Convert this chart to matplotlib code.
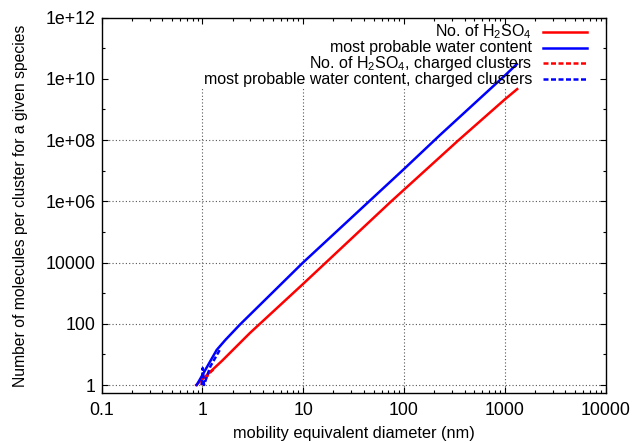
import matplotlib
matplotlib.use("Agg")
import matplotlib.pyplot as plt
from matplotlib.lines import Line2D
from matplotlib.ticker import FixedLocator, FixedFormatter, NullFormatter

plt.rcParams['font.family'] = ['Liberation Sans', 'DejaVu Sans']
plt.rcParams['mathtext.default'] = 'regular'

# Data
acid_d = [0.87, 1.58, 2.97, 10, 75, 350, 1000, 1330]
acid_n = [1, 6.3, 50, 2000, 1e6, 1e8, 2.1e9, 4.6e9]

water_d = [0.88, 1.39, 1.7, 2.37, 10, 100, 228, 1000, 1320]
water_n = [1, 14, 30, 95, 1e4, 1.12e7, 1.45e8, 1.26e10, 3.0e10]

acid_ch_d = [0.97, 1.1, 1.2, 1.34]
acid_ch_n = [1, 1.8, 2.6, 3.6]

water_ch_d = [0.99, 1.01, 1.04, 1.2, 1.5]
water_ch_n = [1, 3.6, 1, 4, 14.5]

x_ticks = [0.1, 1, 10, 100, 1000, 10000]
x_labels = ['0.1', '1', '10', '100', '1000', '10000']
y_ticks = [1, 100, 1e4, 1e6, 1e8, 1e10, 1e12]
y_labels = ['1', '100', '10000', '1e+06', '1e+08', '1e+10', '1e+12']
y_minor = [10, 1e3, 1e5, 1e7, 1e9, 1e11]

labels = ['No. of H$_2$SO$_4$', 'most probable water content',
          'No. of H$_2$SO$_4$, charged clusters',
          'most probable water content, charged clusters']

W, H = 632, 443
fig = plt.figure(figsize=(W / 100, H / 100), dpi=100)
ax = fig.add_axes([101.5 / W, (H - 393.3) / H, (605.5 - 101.5) / W, (393.3 - 17.5) / H])
ax.set_xscale('log')
ax.set_yscale('log')
ax.set_xlim(0.1, 10000)
ax.set_ylim(0.536, 1e12)

# grid (gnuplot skips the key band at the top)
grid_top = 5e9
for xv in x_ticks[1:-1]:
    ax.plot([xv, xv], [0.536, grid_top], color='#555555', lw=0.8,
            ls=(0, (1, 2)), zorder=1)
for yv in y_ticks[:-2]:
    ax.plot([0.1, 10000], [yv, yv], color='#555555', lw=0.8,
            ls=(0, (1, 2)), zorder=1)

lw = 1.8
colors = ['#ff0000', '#0000ff', '#ff0000', '#0000ff']
styles = ['-', '-', (0, (2, 1)), (0, (2, 1))]
ax.plot(acid_d, acid_n, color=colors[0], lw=lw, ls=styles[0], zorder=3)
ax.plot(water_d, water_n, color=colors[1], lw=lw, ls=styles[1], zorder=3)
ax.plot(acid_ch_d, acid_ch_n, color=colors[2], lw=lw, ls=styles[2], zorder=4)
ax.plot(water_ch_d, water_ch_n, color=colors[3], lw=lw, ls=styles[3], zorder=4)

ax.xaxis.set_major_locator(FixedLocator(x_ticks))
ax.xaxis.set_major_formatter(FixedFormatter(x_labels))
ax.yaxis.set_major_locator(FixedLocator(y_ticks))
ax.yaxis.set_major_formatter(FixedFormatter(y_labels))
ax.yaxis.set_minor_locator(FixedLocator(y_minor))
ax.yaxis.set_minor_formatter(NullFormatter())
ax.xaxis.set_minor_formatter(NullFormatter())

ax.tick_params(which='both', direction='in', top=True, right=True,
               labelsize=12.8, colors='black', width=0.8)
ax.tick_params(which='major', length=4.5)
ax.tick_params(which='minor', length=2.5)
ax.tick_params(axis='x', which='major', pad=6)
ax.tick_params(axis='y', which='major', pad=4)
for s in ax.spines.values():
    s.set_linewidth(1.0)

ax.set_xlabel('mobility equivalent diameter (nm)', fontsize=11.8, labelpad=5)
ax.set_ylabel('Number of molecules per cluster for a given species', fontsize=11.3,
              labelpad=13)

# key, gnuplot style: text right-aligned, sample line to the right
row_y = [31.5, 47.5, 63.3, 79.3]
for lab, yy, c, st in zip(labels, row_y, colors, styles):
    fy = (H - yy) / H
    fig.text(532 / W, fy, lab, ha='right', va='center', fontsize=11.5)
    fig.add_artist(Line2D([543 / W, 587 / W], [fy, fy], color=c, lw=lw, ls=st,
                          transform=fig.transFigure))

fig.savefig('out.png', dpi=100)
